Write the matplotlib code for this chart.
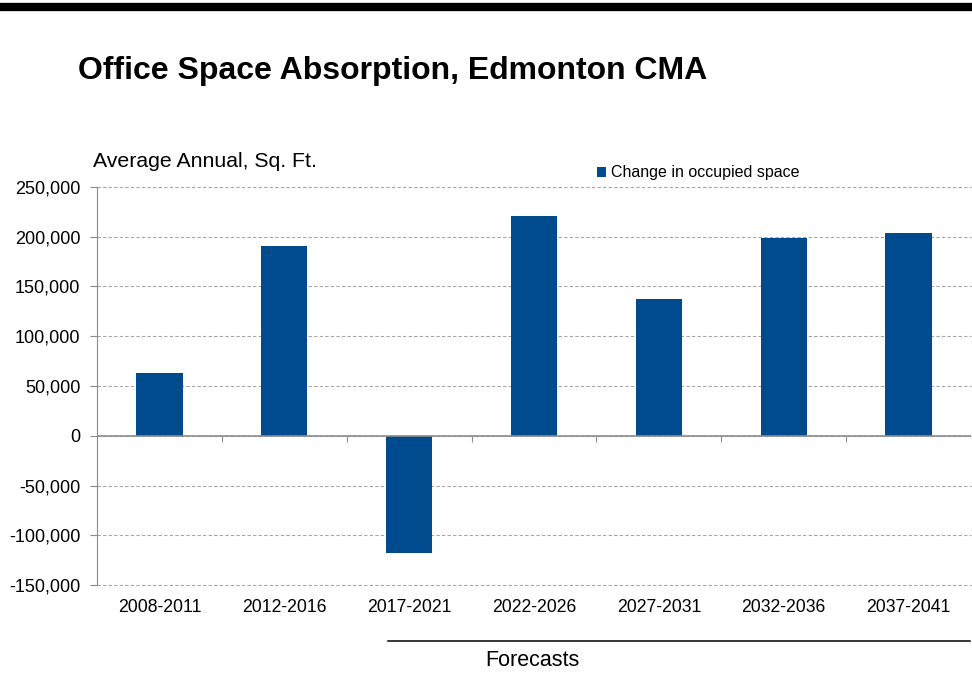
import numpy as np
import matplotlib.pyplot as plt
from matplotlib.lines import Line2D
from matplotlib.ticker import FuncFormatter, FixedLocator

plt.rcParams['font.family'] = ['Liberation Sans', 'DejaVu Sans']

periods = ['2008-2011', '2012-2016', '2017-2021', '2022-2026',
           '2027-2031', '2032-2036', '2037-2041']
absorption = [63000, 191000, -118000, 221000, 137000, 199000, 204000]
series_name = 'Change in occupied space'

bar_color = '#004B8D'
axis_gray = '#8C8C8C'

fig = plt.figure(figsize=(9.72, 6.75), dpi=100)
ax = fig.add_axes([0.0998, 0.1333, 0.8992, 0.5897])

x = np.arange(len(periods))
ax.bar(x, absorption, width=0.37, color=bar_color, label=series_name, zorder=3)

ax.set_xlim(-0.5, len(periods) - 0.5)
ax.set_ylim(-150000, 250000)
ax.set_yticks(np.arange(-150000, 250001, 50000))
ax.yaxis.set_major_formatter(FuncFormatter(lambda v, p: f'{int(v):,}'))
ax.grid(axis='y', color='#A6A6A6', linestyle=(0, (3, 2)), linewidth=0.8, zorder=0)
for gl in ax.get_ygridlines():
    gl.set_clip_on(False)
ax.axhline(0, color=axis_gray, linewidth=1.2, zorder=4)

for side in ['top', 'right', 'bottom']:
    ax.spines[side].set_visible(False)
ax.spines['left'].set_color(axis_gray)
ax.tick_params(axis='y', length=5, color=axis_gray, labelsize=13, pad=7)
ax.set_xticks(x)
ax.set_xticklabels(periods)
ax.tick_params(axis='x', length=0, labelsize=12.7, pad=10)

# category boundary ticks sitting on the zero line
zero_frac = 150000 / 400000
sec = ax.secondary_xaxis(zero_frac)
sec.spines['bottom'].set_visible(False)
sec.xaxis.set_major_locator(FixedLocator(x[:-1] + 0.5))
sec.tick_params(axis='x', direction='out', length=4, color=axis_gray, labelbottom=False)

# top rule and headings
fig.add_artist(Line2D([0.004, 1.0], [0.9896, 0.9896], color='black', linewidth=6))
fig.text(0.080, 0.895, 'Office Space Absorption, Edmonton CMA', fontsize=23,
         fontweight='bold', va='center', ha='left')
fig.text(0.096, 0.761, 'Average Annual, Sq. Ft.', fontsize=15.3, va='center', ha='left')

ax.legend(loc='center left', bbox_to_anchor=(0.614, 0.744), bbox_transform=fig.transFigure,
          frameon=False, fontsize=11.5, handlelength=0.6, handleheight=0.6,
          handletextpad=0.3, borderpad=0, borderaxespad=0)

# forecast bracket under the axis labels
fig.add_artist(Line2D([0.399, 0.998], [0.0504, 0.0504], color='black', linewidth=1.1))
fig.text(0.548, 0.021, 'Forecasts', fontsize=15.5, va='center', ha='center')

fig.savefig('out.png', dpi=100)
